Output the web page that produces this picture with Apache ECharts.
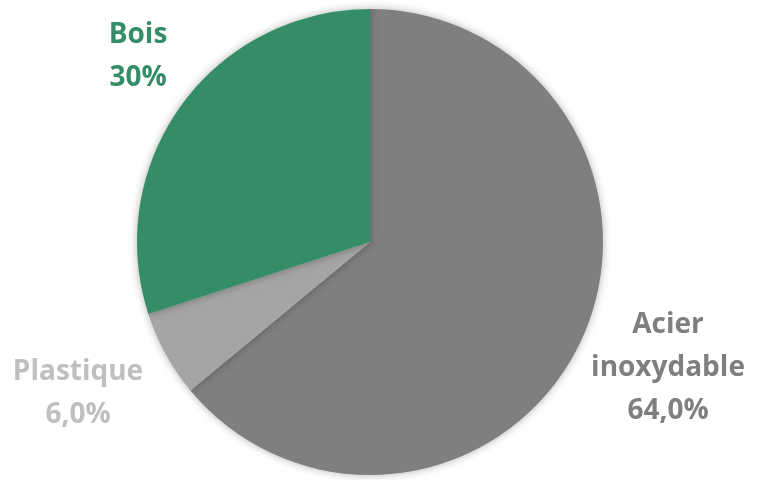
<!DOCTYPE html>
<html><head><meta charset="utf-8">
<script src="https://cdn.jsdelivr.net/npm/echarts@6/dist/echarts.min.js"></script>
<style>html,body{margin:0;padding:0;background:#fff}#c{width:757px;height:480px}</style>
</head><body><div id="c"></div>
<script>
const categories = ["Acier\ninoxydable", "Plastique", "Bois"];
const values = [64, 6, 30];
const valueLabels = ["64,0%", "6,0%", "30%"];
const colors = ["#7f7f7f", "#a5a5a5", "#358d67"];
const labelColors = ["#7f7f7f", "#bfbfbf", "#358d67"];
const labelPos = [[668, 368], [78, 394], [138, 57]];

const chart = echarts.init(document.getElementById('c'));
chart.setOption({
  animation: false,
  series: [{
    type: 'pie',
    center: [370, 242],
    radius: 233,
    startAngle: 90,
    clockwise: true,
    data: categories.map((n, i) => ({
      name: n, value: values[i],
      itemStyle: { color: colors[i] },
      label: { color: labelColors[i] }
    })),
    itemStyle: { shadowBlur: 8, shadowColor: 'rgba(0,0,0,0.3)', borderWidth: 0 },
    label: {
      show: true, position: 'outside', overflow: 'none', width: 300,
      formatter: p => p.name + '\n' + valueLabels[p.dataIndex],
      fontFamily: 'Open Sans', fontWeight: 'bold', fontSize: 28, lineHeight: 43, align: 'center'
    },
    labelLine: { show: false },
    labelLayout: p => ({ x: labelPos[p.dataIndex][0], y: labelPos[p.dataIndex][1], align: 'center', verticalAlign: 'middle' })
  }]
});
</script></body></html>
